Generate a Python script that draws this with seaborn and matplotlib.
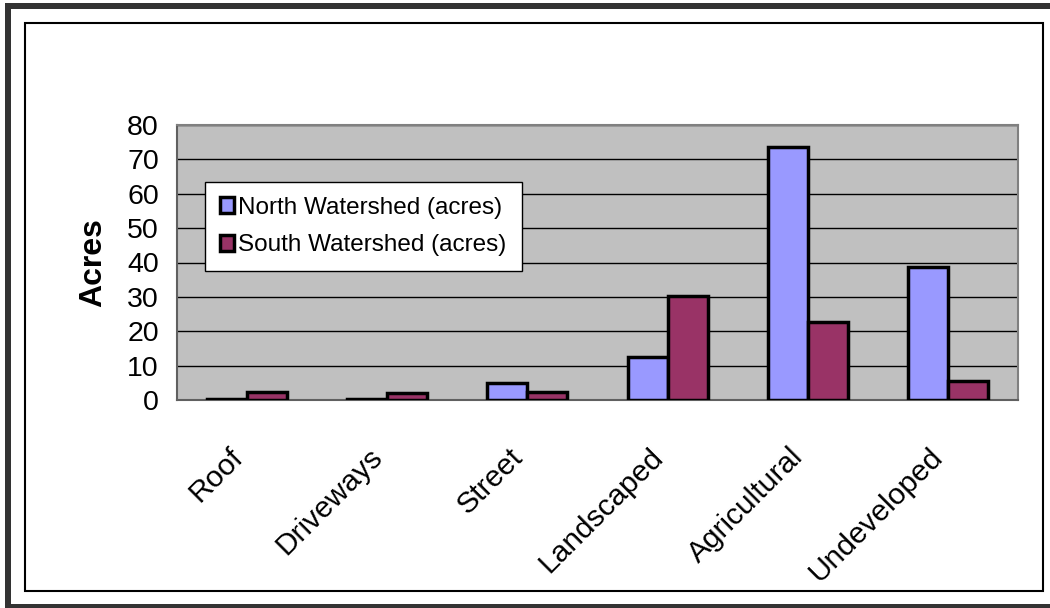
import matplotlib
matplotlib.use("Agg")
import matplotlib.pyplot as plt
from matplotlib.patches import Rectangle
from matplotlib.transforms import ScaledTranslation
import seaborn as sns
import pandas as pd
import numpy as np

# --- data ---
categories = ["Roof", "Driveways", "Street", "Landscaped", "Agricultural", "Undeveloped"]
north_acres = [0.3, 0.3, 4.9, 12.4, 73.5, 38.6]
south_acres = [2.2, 2.0, 2.2, 30.2, 22.6, 5.4]
series_names = ["North Watershed (acres)", "South Watershed (acres)"]
y_ticks = [0, 10, 20, 30, 40, 50, 60, 70, 80]

df = pd.DataFrame({
    "Category": categories * 2,
    "Acres": north_acres + south_acres,
    "Watershed": [series_names[0]] * len(categories) + [series_names[1]] * len(categories),
})

sns.set_style("white")
plt.rcParams["font.family"] = ["Liberation Sans", "DejaVu Sans"]
plt.rcParams["text.color"] = "black"
plt.rcParams["axes.labelcolor"] = "black"
plt.rcParams["xtick.color"] = "black"
plt.rcParams["ytick.color"] = "black"

W, H = 1050, 608
fig = plt.figure(figsize=(W / 100, H / 100), dpi=100)
ax = fig.add_axes([177 / W, 1 - 400 / H, (1018 - 177) / W, (400 - 125) / H])
ax.set_facecolor("#C0C0C0")

sns.barplot(data=df, x="Category", y="Acres", hue="Watershed", order=categories,
            hue_order=series_names, palette=["#9999FF", "#993366"], saturation=1,
            width=0.57, gap=0, edgecolor="black", linewidth=2.5, ax=ax, zorder=3)

ax.set_ylim(0, 80)
ax.set_xlim(-0.5, len(categories) - 0.5)
ax.set_yticks(y_ticks)
ax.yaxis.grid(True, color="black", linewidth=1)
ax.set_axisbelow(True)

# category labels at centres, tick marks at category boundaries (Excel style)
ax.set_xticks(np.arange(len(categories)))
ax.set_xticks(np.arange(-0.5, len(categories), 1), minor=True)
ax.tick_params(axis="x", which="major", length=0, pad=38, labelsize=21.5)
ax.tick_params(axis="x", which="minor", length=7, width=1.2, color="black")
ax.tick_params(axis="y", length=6, width=1.2, color="black", labelsize=20.5, pad=7)
shift = ScaledTranslation(-9 / 100, 0, fig.dpi_scale_trans)
for lab in ax.get_xticklabels():
    lab.set_rotation(45)
    lab.set_ha("right")
    lab.set_va("center")
    lab.set_rotation_mode("anchor")
    lab.set_transform(lab.get_transform() + shift)

ax.set_xlabel("")
ax.set_ylabel("Acres", fontsize=23, fontweight="bold", labelpad=14)

for side in ["top", "right"]:
    ax.spines[side].set_color("#808080")
    ax.spines[side].set_linewidth(1.5)
for side in ["left", "bottom"]:
    ax.spines[side].set_color("#606060")
    ax.spines[side].set_linewidth(1.5)

# legend box stretched to the reference width (Excel leaves room on the right)
leg = ax.legend(loc="upper left", mode="expand",
                bbox_to_anchor=((205 - 177) / 841, (400 - 182) / 275, (522 - 205) / 841, 0),
                fontsize=17.5, frameon=True, fancybox=False, framealpha=1, edgecolor="black",
                handlelength=0.6, handleheight=0.6, handletextpad=0.15,
                labelspacing=0.65, borderpad=0.6, borderaxespad=0)
leg.get_frame().set_linewidth(1)

# chart-area borders drawn in figure pixels
def px_rect(x0, y0, x1, y1, **kw):
    return Rectangle((x0 / W, 1 - y1 / H), (x1 - x0) / W, (y1 - y0) / H,
                     transform=fig.transFigure, **kw)

fig.add_artist(px_rect(25, 23, 1043, 591, fill=False, edgecolor="black", linewidth=1.5))
fig.add_artist(px_rect(5, 3, 1050, 9, facecolor="#333333", edgecolor="none"))
fig.add_artist(px_rect(5, 3, 11, 608, facecolor="#333333", edgecolor="none"))
fig.add_artist(px_rect(5, 604, 1050, 608, facecolor="#333333", edgecolor="none"))

fig.savefig("out.png", dpi=100)
